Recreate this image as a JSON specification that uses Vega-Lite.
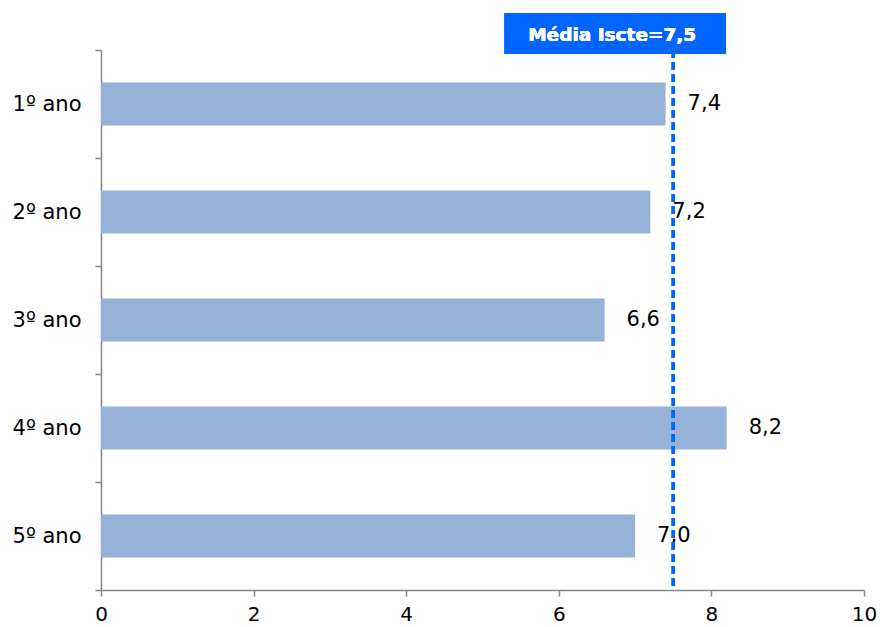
{
  "$schema": "https://vega.github.io/schema/vega-lite/v6.json",
  "width": 763,
  "height": 540,
  "autosize": {"type": "none"},
  "padding": {"left": 101, "top": 50, "right": 16, "bottom": 37},
  "background": "white",
  "config": {
    "view": {"stroke": null},
    "font": "DejaVu Sans",
    "locale": {"number": {"decimal": ",", "thousands": ".", "grouping": [3], "currency": ["", " €"]}}
  },
  "data": {
    "values": [
      {"ano": "1º ano", "valor": 7.4},
      {"ano": "2º ano", "valor": 7.2},
      {"ano": "3º ano", "valor": 6.6},
      {"ano": "4º ano", "valor": 8.2},
      {"ano": "5º ano", "valor": 7.0}
    ]
  },
  "resolve": {"scale": {"y": "independent"}},
  "layer": [
    {
      "layer": [
        {
          "mark": {"type": "bar", "color": "#95B3D7", "height": {"band": 0.4}},
          "encoding": {
            "y": {
              "field": "ano", "type": "nominal", "sort": null,
              "scale": {"paddingInner": 0, "paddingOuter": 0},
              "axis": {
                "title": null, "tickBand": "extent", "labelFontSize": 21,
                "labelColor": "black", "domainColor": "#868686", "tickColor": "#868686",
                "tickSize": 6, "labelPadding": 14, "domainWidth": 1.5, "tickWidth": 1.5
              }
            },
            "x": {
              "field": "valor", "type": "quantitative",
              "scale": {"domain": [0, 10], "nice": false},
              "axis": {
                "title": null, "values": [0, 2, 4, 6, 8, 10], "grid": false, "format": "d",
                "labelFlush": false, "labelOverlap": false,
                "labelFontSize": 20, "labelColor": "black", "domainColor": "#868686",
                "tickColor": "#868686", "tickSize": 6, "labelPadding": 8,
                "domainWidth": 1.5, "tickWidth": 1.5
              }
            }
          }
        },
        {
          "mark": {"type": "text", "align": "left", "baseline": "middle", "dx": 22, "fontSize": 21, "color": "black"},
          "encoding": {
            "y": {"field": "ano", "type": "nominal", "sort": null},
            "x": {"field": "valor", "type": "quantitative"},
            "text": {"field": "valor", "type": "quantitative", "format": ".1f"}
          }
        }
      ]
    },
    {
      "mark": {"type": "rule", "color": "#0066FF", "strokeWidth": 3, "strokeDash": [8, 4]},
      "encoding": {"x": {"datum": 7.5, "type": "quantitative"}}
    },
    {
      "layer": [
        {
          "mark": {"type": "rect", "color": "#0066FF"},
          "encoding": {
            "x": {"datum": 5.29, "type": "quantitative"},
            "x2": {"datum": 8.19},
            "y": {"datum": 1.0685, "type": "quantitative", "scale": {"domain": [0, 1], "nice": false, "zero": false}, "axis": null},
            "y2": {"datum": 0.9926}
          }
        },
        {
          "mark": {"type": "text", "align": "center", "baseline": "middle", "fontSize": 18.5, "fontWeight": "bold", "color": "white"},
          "encoding": {
            "x": {"datum": 6.7, "type": "quantitative"},
            "y": {"datum": 1.028, "type": "quantitative"},
            "text": {"value": "Média Iscte=7,5"}
          }
        }
      ]
    }
  ]
}
